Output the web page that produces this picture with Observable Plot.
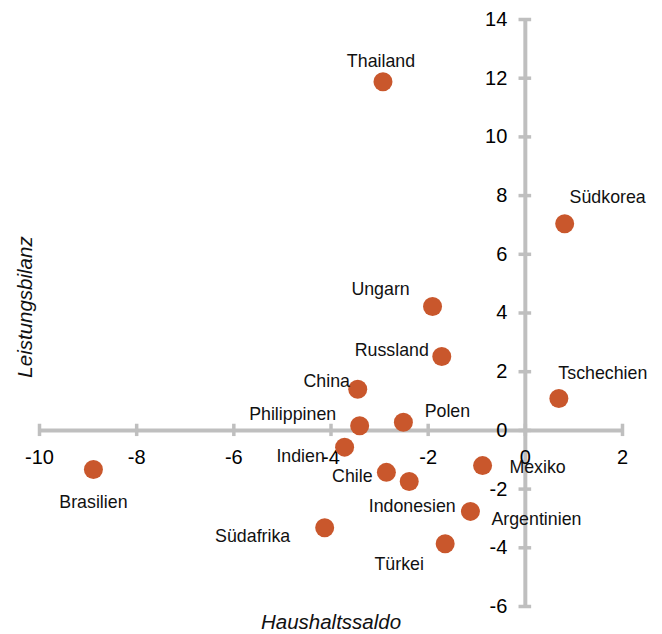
<!DOCTYPE html>
<html><head><meta charset="utf-8">
<script src="https://cdn.jsdelivr.net/npm/d3@7"></script>
<script src="https://cdn.jsdelivr.net/npm/@observablehq/plot@0.6"></script>
<style>
html,body{margin:0;padding:0;background:#fff;}
svg{font-family:"Liberation Sans",Arial,sans-serif;}
</style></head><body><div id="chart"></div>
<script>
const countries = ["Thailand","Südkorea","Ungarn","Russland","Tschechien","China","Philippinen","Polen","Indien","Brasilien","Chile","Indonesien","Mexiko","Argentinien","Südafrika","Türkei"];
const haushaltssaldo = [-2.93, 0.81, -1.91, -1.72, 0.69, -3.45, -3.41, -2.51, -3.72, -8.89, -2.86, -2.39, -0.88, -1.13, -4.13, -1.65];
const leistungsbilanz = [11.88, 7.04, 4.22, 2.52, 1.09, 1.40, 0.16, 0.28, -0.57, -1.33, -1.43, -1.74, -1.20, -2.76, -3.32, -3.86];
const xTicks = [-10, -8, -6, -4, -2, 0, 2];
const yTicks = [-6, -4, -2, 0, 2, 4, 6, 8, 10, 12, 14];
// label placement (layout only, px)
const labelDx = [-2, 43, -52, -50, 44, -31, -67, 44, -44, 0, -34, 3, 55, 66, -72, -46];
const labelDy = [-20, -26, -17, -6, -25, -8, -11, -11, 9, 33, 4, 25, 2, 8, 8, 21];

const data = countries.map((c, i) => ({c, x: haushaltssaldo[i], y: leistungsbilanz[i], dx: labelDx[i], dy: labelDy[i]}));
const gray = "#BFBFBF";

const marks = [
  Plot.ruleY([0], {x1: -10, x2: 2, stroke: gray, strokeWidth: 4}),
  Plot.ruleX([0], {y1: -6, y2: 14, stroke: gray, strokeWidth: 4}),
  Plot.ruleX(xTicks, {x: d => d, y1: -0.21, y2: 0.21, stroke: gray, strokeWidth: 3.5}),
  Plot.ruleY(yTicks, {y: d => d, x1: -0.13, x2: 0.13, stroke: gray, strokeWidth: 3.5}),
  Plot.text(xTicks, {x: d => d, y: 0, text: d => String(d), dy: 27, fontSize: 20, fill: "#000"}),
  Plot.text(yTicks, {x: 0, y: d => d, text: d => String(d), dx: -18, textAnchor: "end", fontSize: 20, fill: "#000"}),
  Plot.dot(data, {x: "x", y: "y", r: 9.5, fill: "#C9572C", stroke: "none"}),
  ...data.map(d => Plot.text([d], {x: "x", y: "y", text: "c", dx: d.dx, dy: d.dy, fontSize: 17.8, fill: "#111"})),
  Plot.text(["Haushaltssaldo"], {frameAnchor: "bottom", textAnchor: "middle", dy: 22, fontSize: 20.5, fontStyle: "italic", fill: "#111"}),
  Plot.text(["Leistungsbilanz"], {frameAnchor: "left", textAnchor: "middle", rotate: -90, dx: -14, dy: -6, fontSize: 20.5, fontStyle: "italic", fill: "#111"})
];

const chart = Plot.plot({
  width: 662,
  height: 634,
  marginLeft: 39,
  marginRight: 40,
  marginTop: 19,
  marginBottom: 28,
  x: {domain: [-10, 2], axis: null},
  y: {domain: [-6, 14], axis: null},
  style: {fontFamily: "'Liberation Sans', Arial, sans-serif", background: "#fff", overflow: "visible"},
  marks
});
document.getElementById("chart").appendChild(chart);
</script></body></html>
